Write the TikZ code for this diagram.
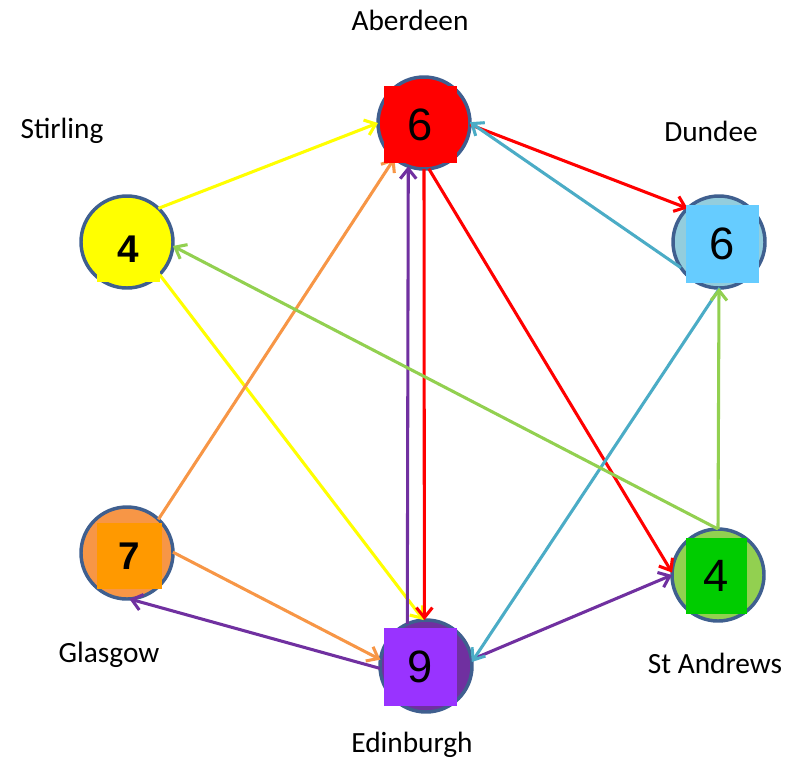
\documentclass[tikz,border=0pt]{standalone}
\usepackage{fontspec}
\setmainfont{Carlito}
\newfontfamily\digitfont{Liberation Sans}
\usetikzlibrary{arrows.meta}
\definecolor{rimblue}{HTML}{3F5F8F}
\definecolor{roadyellow}{HTML}{FFFF00}
\definecolor{roadorange}{HTML}{F79646}
\definecolor{roadpurple}{HTML}{7030A0}
\definecolor{roadred}{HTML}{FF0000}
\definecolor{roadblue}{HTML}{4BACC6}
\definecolor{roadgreen}{HTML}{92D050}
\definecolor{sqblue}{HTML}{66CCFF}
\definecolor{sqorange}{HTML}{FF9900}
\definecolor{sqpurple}{HTML}{9933FF}
\definecolor{sqgreen}{HTML}{00CC00}
\definecolor{disclblue}{HTML}{93CDDD}
\tikzset{
  town/.style={circle, draw=rimblue, line width=2.6pt, minimum size=69pt, inner sep=0pt, outer sep=0pt},
  tally/.style={rectangle, inner sep=0pt, outer sep=0pt, font=\digitfont\fontsize{34}{36}\selectfont},
  boldtally/.style={tally, font=\digitfont\fontsize{29}{32}\selectfont\bfseries},
  road/.style={line width=2.3pt, -{Straight Barb[length=7.5pt,width=12pt]}},
  townname/.style={font=\fontsize{22}{26}\selectfont}
}

\begin{document}
\begin{tikzpicture}[x=0.75pt, y=-0.75pt]
        \useasboundingbox (0,0) rectangle (792,761);

        % Towns
        \node[town, fill=roadred] (abd) at (424,123) {};
        \node[town, fill=roadyellow] (sti) at (127,242) {};
        \node[town, fill=disclblue] (dun) at (719,242) {};
        \node[town, fill=roadorange] (gla) at (127,553) {};
        \node[town, fill=roadpurple] (edi) at (426,666) {};
        \node[town, fill=roadgreen] (sta) at (718,575) {};

        % Roads
        \draw[road, roadyellow] (sti.47) -- (abd.180);
        \draw[road, roadyellow] (sti.-45) -- (edi.93);
        \draw[road, roadorange] (gla.47) -- (abd.230);
        \draw[road, roadorange] (gla.1) -- (edi.172);
        \draw[road, roadpurple] (edi.183) -- (gla.273);
        \draw[road, roadpurple] (edi.114) -- (abd.250);
        \draw[road, roadpurple] (edi.8) -- (sta.180);
        \draw[road, roadred] (abd.270) -- (edi.92);
        \draw[road, roadred] (abd.-2) -- (dun.133);
        \draw[road, roadred] (abd.-84) -- (sta.177);
        \draw[road, roadblue] (dun.214) -- (abd.1);
        \draw[road, roadblue] (dun.-89) -- (edi.5);
        \draw[road, roadgreen] (sta.90) -- (dun.-90);
        \draw[road, roadgreen] (sta.90) -- (sti.-5);

        % Scores
        \node[tally, fill=roadred, minimum width=54.75pt, minimum height=57.75pt] (abd-sq) at (420.5,124.5) {6};
        \node[boldtally, fill=roadyellow, minimum width=47.25pt, minimum height=49.5pt] (sti-sq) at (128.5,249) {4};
        \node[tally, fill=sqblue, minimum width=54.75pt, minimum height=58.5pt] (dun-sq) at (722.5,244) {6};
        \node[boldtally, fill=sqorange, minimum width=48.75pt, minimum height=49.5pt] (gla-sq) at (129.5,556) {7};
        \node[tally, fill=sqpurple, minimum width=54.75pt, minimum height=58.5pt] (edi-sq) at (420.5,667) {9};
        \node[tally, fill=sqgreen, minimum width=45.75pt, minimum height=57pt] (sta-sq) at (716.5,576) {4};

        % Names
        \node[townname] (abd-name) at (410,20) {Aberdeen};
        \node[townname] (sti-name) at (62,131) {Stirling};
        \node[townname] (dun-name) at (711,131) {Dundee};
        \node[townname] (gla-name) at (109,655) {Glasgow};
        \node[townname] (edi-name) at (412,745) {Edinburgh};
        \node[townname] (sta-name) at (715,663) {St Andrews};
    \end{tikzpicture}
\end{document}
